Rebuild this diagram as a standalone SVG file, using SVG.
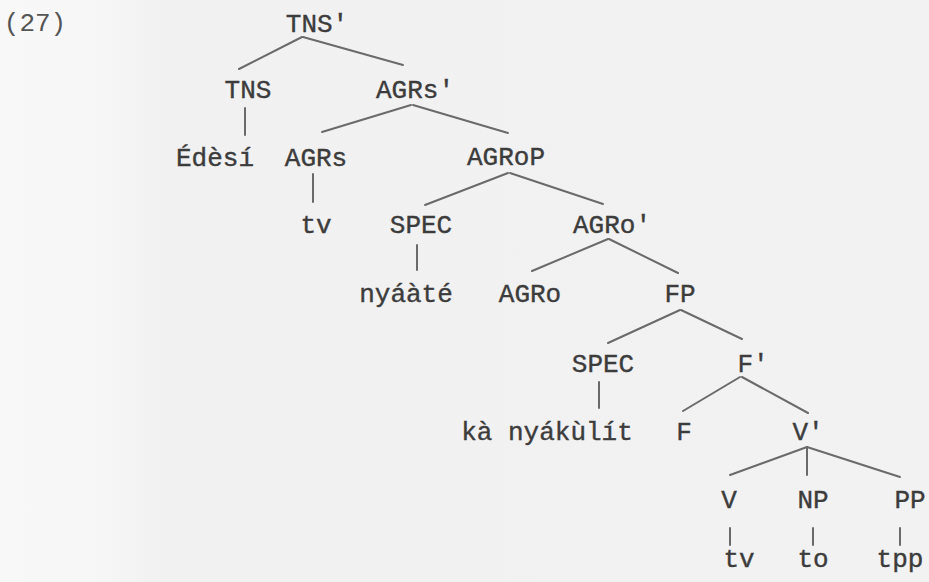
<svg xmlns="http://www.w3.org/2000/svg" width="929" height="582" viewBox="0 0 929 582">
<defs>
<linearGradient id="bg" x1="0" y1="0" x2="929" y2="0" gradientUnits="userSpaceOnUse">
<stop offset="0" stop-color="#f8f8f8"/>
<stop offset="0.1" stop-color="#f7f7f7"/>
<stop offset="0.18" stop-color="#f1f1f1"/>
<stop offset="1" stop-color="#f2f2f2"/>
</linearGradient>
</defs>
<style>
.lbl{font-family:"Liberation Mono","DejaVu Sans Mono",monospace;font-size:26px;fill:#3c3c3c;text-anchor:middle;stroke:#3c3c3c;stroke-width:0.4}
.num{font-family:"Liberation Mono","DejaVu Sans Mono",monospace;font-size:26px;fill:#555;text-anchor:middle}
#edges line{stroke:#6a6a6a;stroke-width:2;stroke-linecap:round}
</style>
<rect x="0" y="0" width="929" height="582" fill="url(#bg)"/>
<text class="num" x="35" y="31">(27)</text>
<g id="edges">
<line x1="302" y1="37" x2="239" y2="69"/>
<line x1="303" y1="37" x2="403" y2="65"/>
<line x1="245" y1="108" x2="245" y2="135"/>
<line x1="411" y1="105" x2="322" y2="132"/>
<line x1="413" y1="105" x2="508" y2="133"/>
<line x1="313" y1="174" x2="313" y2="202"/>
<line x1="508" y1="173" x2="425" y2="205"/>
<line x1="510" y1="173" x2="603" y2="204"/>
<line x1="417" y1="245" x2="417" y2="270"/>
<line x1="608" y1="239" x2="532" y2="271"/>
<line x1="609" y1="239" x2="678" y2="273"/>
<line x1="680" y1="310" x2="608" y2="343"/>
<line x1="681" y1="310" x2="742" y2="339"/>
<line x1="599" y1="382" x2="599" y2="408"/>
<line x1="740" y1="377" x2="683" y2="411"/>
<line x1="742" y1="377" x2="808" y2="413"/>
<line x1="807" y1="447" x2="730" y2="475"/>
<line x1="807" y1="447" x2="807" y2="475"/>
<line x1="807" y1="447" x2="900" y2="477"/>
<line x1="730" y1="528" x2="730" y2="545"/>
<line x1="813" y1="528" x2="813" y2="545"/>
<line x1="900" y1="528" x2="900" y2="545"/>
</g>
<g id="n-tnsbar"><text class="lbl" x="317" y="32">TNS'</text></g>
<g id="n-tns"><text class="lbl" x="248" y="98">TNS</text></g>
<g id="n-agrsbar"><text class="lbl" x="415" y="98">AGRs'</text></g>
<g id="n-edesi"><text class="lbl" x="215" y="166">Édèsí</text></g>
<g id="n-agrs"><text class="lbl" x="316" y="166">AGRs</text></g>
<g id="n-agrop"><text class="lbl" x="506" y="165">AGRoP</text></g>
<g id="n-tv1"><text class="lbl" x="316" y="233">tv</text></g>
<g id="n-spec1"><text class="lbl" x="421" y="233">SPEC</text></g>
<g id="n-agrobar"><text class="lbl" x="612" y="233">AGRo'</text></g>
<g id="n-nyaate"><text class="lbl" x="406" y="302">nyáàté</text></g>
<g id="n-agro"><text class="lbl" x="530" y="302">AGRo</text></g>
<g id="n-fp"><text class="lbl" x="680" y="302">FP</text></g>
<g id="n-spec2"><text class="lbl" x="603" y="372">SPEC</text></g>
<g id="n-fbar"><text class="lbl" x="753" y="372">F'</text></g>
<g id="n-ka"><text class="lbl" x="547" y="440">kà nyákùlít</text></g>
<g id="n-f"><text class="lbl" x="684" y="440">F</text></g>
<g id="n-vbar"><text class="lbl" x="808" y="440">V'</text></g>
<g id="n-v"><text class="lbl" x="729" y="508">V</text></g>
<g id="n-np"><text class="lbl" x="813" y="508">NP</text></g>
<g id="n-pp"><text class="lbl" x="910" y="508">PP</text></g>
<g id="n-tv2"><text class="lbl" x="739" y="567">tv</text></g>
<g id="n-to"><text class="lbl" x="813" y="567">to</text></g>
<g id="n-tpp"><text class="lbl" x="900" y="567">tpp</text></g>
</svg>
